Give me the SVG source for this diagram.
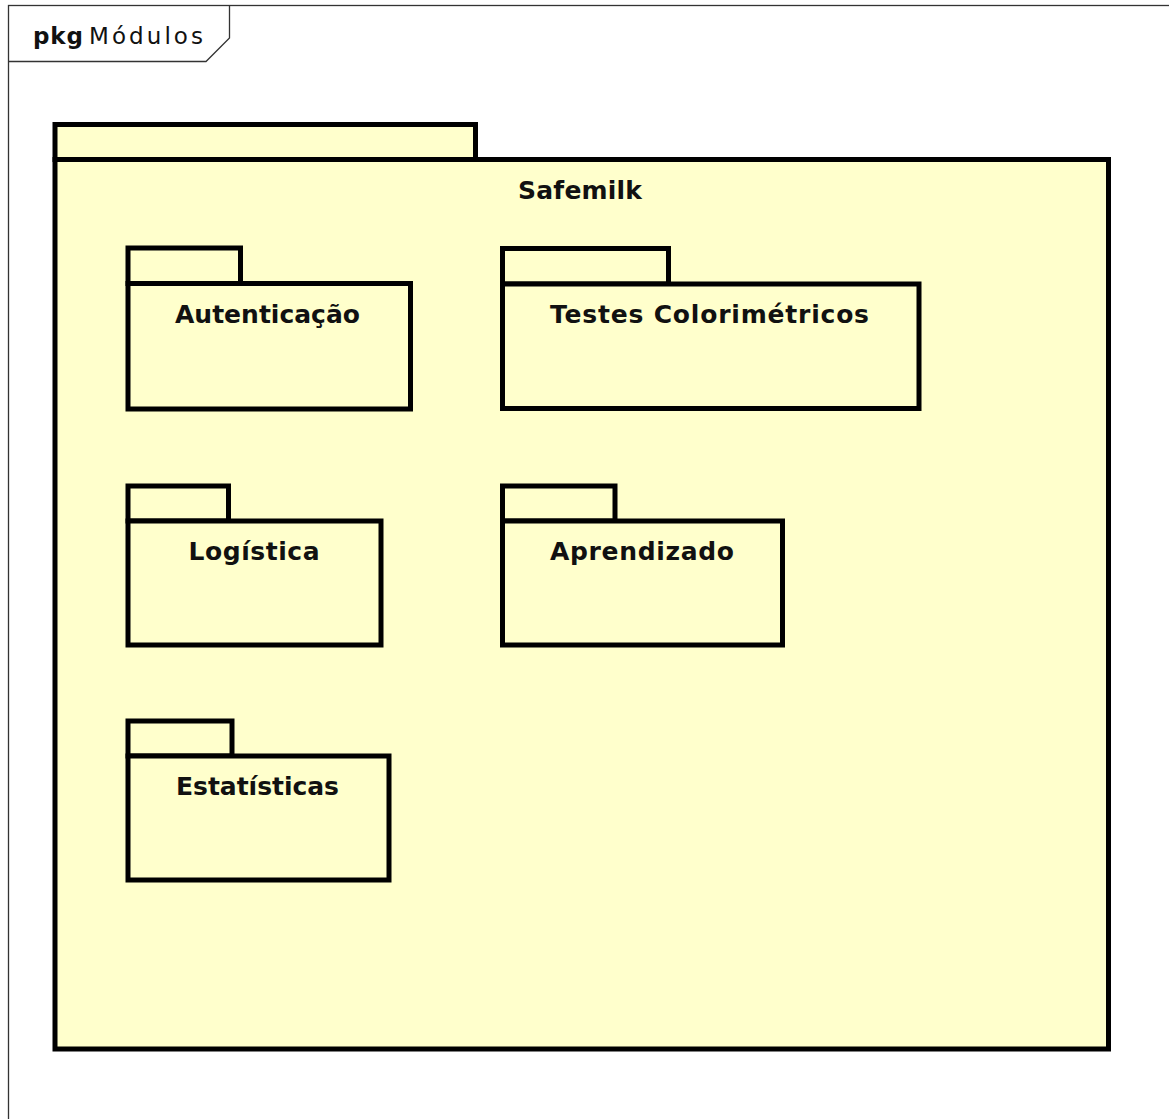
<svg xmlns="http://www.w3.org/2000/svg" width="1169" height="1119" viewBox="0 0 1169 1119">
  <style>
    .pkg { fill: #ffffcc; stroke: #000; stroke-width: 5; stroke-linejoin: miter; }
    .name { font-family: "DejaVu Sans", "Liberation Sans", sans-serif; font-weight: bold; font-size: 25px; fill: #111; text-anchor: middle; }
    .frame { fill: none; stroke: #333; stroke-width: 1.3; }
    .frameLabel { font-family: "DejaVu Sans", "Liberation Sans", sans-serif; font-size: 23px; fill: #111; }
  </style>
  <rect x="0" y="0" width="1169" height="1119" fill="#fff"/>

  <!-- diagram frame -->
  <g id="frame">
    <rect class="frame" x="8.5" y="5.5" width="1200" height="1200"/>
    <path class="frame" d="M8.5 61.5 H206 L229.5 38 V5.5"/>
    <text class="frameLabel" y="44"><tspan x="33" font-weight="bold" textLength="50" lengthAdjust="spacing">pkg</tspan><tspan x="89" textLength="114" lengthAdjust="spacing">Módulos</tspan></text>
  </g>

  <!-- top-level package -->
  <g id="safemilk">
    <rect class="pkg" x="55" y="124.5" width="420.5" height="35"/>
    <rect class="pkg" x="55" y="159.5" width="1053.5" height="889.5"/>
    <text class="name" x="580" y="199" textLength="124" lengthAdjust="spacing">Safemilk</text>
  </g>

  <!-- nested packages -->
  <g id="autenticacao">
    <rect class="pkg" x="128" y="248" width="112.5" height="35.5"/>
    <rect class="pkg" x="128" y="283.5" width="282.5" height="125.5"/>
    <text class="name" x="267.5" y="322.5" textLength="185" lengthAdjust="spacing">Autenticação</text>
  </g>

  <g id="testes-colorimetricos">
    <rect class="pkg" x="502.5" y="248.5" width="166" height="35.5"/>
    <rect class="pkg" x="502.5" y="284" width="416.5" height="124.5"/>
    <text class="name" x="709.5" y="323" textLength="319" lengthAdjust="spacing">Testes Colorimétricos</text>
  </g>

  <g id="logistica">
    <rect class="pkg" x="128" y="486" width="100.5" height="35"/>
    <rect class="pkg" x="128" y="521" width="253" height="124"/>
    <text class="name" x="254" y="560" textLength="131" lengthAdjust="spacing">Logística</text>
  </g>

  <g id="aprendizado">
    <rect class="pkg" x="502.5" y="486" width="112.5" height="35"/>
    <rect class="pkg" x="502.5" y="521" width="280" height="124"/>
    <text class="name" x="642" y="560" textLength="184" lengthAdjust="spacing">Aprendizado</text>
  </g>

  <g id="estatisticas">
    <rect class="pkg" x="128" y="721" width="104" height="35"/>
    <rect class="pkg" x="128" y="756" width="261" height="124"/>
    <text class="name" x="257.5" y="795" textLength="163" lengthAdjust="spacing">Estatísticas</text>
  </g>

  <g id="connectors"/>
</svg>
